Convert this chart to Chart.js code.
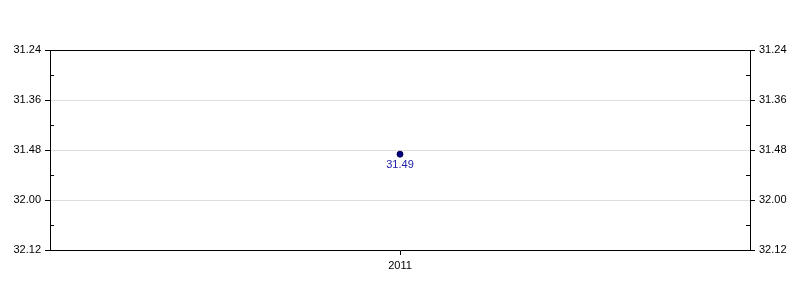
<!DOCTYPE html>
<html>
<head>
<meta charset="utf-8">
<script src="https://cdn.jsdelivr.net/npm/chart.js@4"></script>
<style>
  html, body { margin: 0; padding: 0; background: #fff; }
  canvas { display: block; }
</style>
</head>
<body>
<canvas id="chart" width="800" height="300"></canvas>
<script>
// values are race times in minutes.seconds
const years = ['2011'];
const times = ['31.49'];
const tickLabels = ['31.24', '31.36', '31.48', '32.00', '32.12'];

function toSeconds(t) {
  const [m, s] = t.split('.');
  return Number(m) * 60 + Number(s);
}

function fmtTime(sec) {
  const m = Math.floor(sec / 60);
  const s = Math.round(sec - m * 60);
  return m + '.' + String(s).padStart(2, '0');
}

const tickSecs = tickLabels.map(toSeconds);
const yMin = tickSecs[0];
const yMax = tickSecs[tickSecs.length - 1];
const step = tickSecs[1] - tickSecs[0];

const FONT = { family: '"Liberation Sans", Arial, sans-serif', size: 11 };

// frame + minor ticks + value labels
const extras = {
  id: 'extras',
  afterDraw(chart) {
    const ctx = chart.ctx;
    const a = chart.chartArea;
    const y = chart.scales.y;
    ctx.save();
    ctx.strokeStyle = '#000';
    ctx.lineWidth = 1;
    ctx.beginPath();
    ctx.moveTo(a.left, a.top + 0.5);
    ctx.lineTo(a.right, a.top + 0.5);
    for (let i = 0; i < tickSecs.length - 1; i++) {
      const py = Math.round(y.getPixelForValue(tickSecs[i] + step / 2)) + 0.5;
      ctx.moveTo(a.left, py);
      ctx.lineTo(a.left + 4, py);
      ctx.moveTo(a.right - 4, py);
      ctx.lineTo(a.right, py);
    }
    ctx.stroke();

    const meta = chart.getDatasetMeta(0);
    ctx.fillStyle = '#2020a8';
    ctx.font = '11px ' + FONT.family;
    ctx.textAlign = 'center';
    ctx.textBaseline = 'top';
    meta.data.forEach((pt, i) => {
      ctx.fillText(times[i], pt.x, pt.y + 5);
    });
    ctx.restore();
  }
};

new Chart(document.getElementById('chart'), {
  type: 'line',
  data: {
    labels: years,
    datasets: [{
      data: times.map(toSeconds),
      showLine: false,
      pointRadius: 3,
      pointBackgroundColor: '#000080',
      pointBorderColor: '#000050',
      pointBorderWidth: 1
    }]
  },
  options: {
    responsive: false,
    animation: false,
    layout: { padding: { top: 50, left: 0, right: 0, bottom: 0 } },
    plugins: { legend: { display: false }, tooltip: { enabled: false } },
    scales: {
      x: {
        type: 'category',
        offset: true,
        grid: { display: true, drawOnChartArea: false, tickColor: '#000', tickLength: 5 },
        border: { display: true, color: '#000' },
        ticks: { color: '#000', font: FONT, padding: 4 },
        afterFit(s) { s.height = 50; }
      },
      y: {
        position: 'left',
        reverse: true,
        min: yMin,
        max: yMax,
        afterBuildTicks(s) { s.ticks = tickSecs.map(v => ({ value: v })); },
        grid: { color: '#dddddd', tickColor: '#000', tickLength: 5 },
        border: { display: true, color: '#000' },
        ticks: { color: '#000', font: FONT, padding: 4, callback: v => fmtTime(v) },
        afterFit(s) { s.width = 50; }
      },
      y2: {
        position: 'right',
        reverse: true,
        min: yMin,
        max: yMax,
        afterBuildTicks(s) { s.ticks = tickSecs.map(v => ({ value: v })); },
        grid: { drawOnChartArea: false, tickColor: '#000', tickLength: 5 },
        border: { display: true, color: '#000' },
        ticks: { color: '#000', font: FONT, padding: 4, callback: v => fmtTime(v) },
        afterFit(s) { s.width = 50; }
      }
    }
  },
  plugins: [extras]
});
</script>
</body>
</html>
